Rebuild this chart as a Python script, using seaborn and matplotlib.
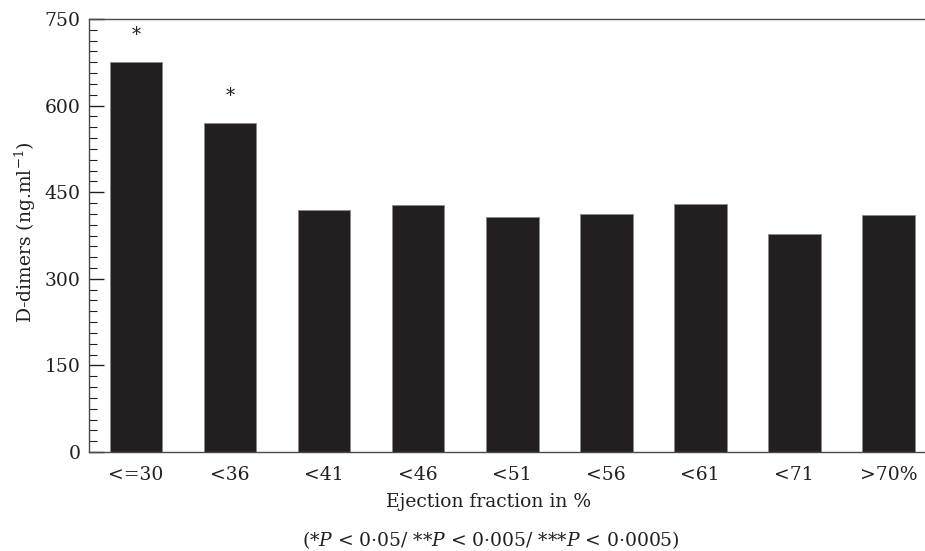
import matplotlib
matplotlib.use("Agg")
import matplotlib.pyplot as plt
import seaborn as sns
import pandas as pd
from matplotlib.ticker import MultipleLocator

categories = ["<=30", "<36", "<41", "<46", "<51", "<56", "<61", "<71", ">70%"]
values = [675, 569, 419, 427, 407, 412, 430, 378, 411]
marks = ["*", "*", "", "", "", "", "", "", ""]
y_ticks = [0, 150, 300, 450, 600, 750]

sns.set_style("ticks")
plt.rcParams["font.family"] = ["DejaVu Serif"]
plt.rcParams["mathtext.fontset"] = "dejavuserif"

df = pd.DataFrame({"cat": categories, "val": values})

fig = plt.figure(figsize=(9.25, 5.51), dpi=100)
ax = fig.add_axes([89 / 925, 1 - 452 / 551, 1 - 89 / 925, (452 - 19) / 551])

sns.barplot(data=df, x="cat", y="val", order=categories, color="#231f20",
            saturation=1, width=0.56, edgecolor="#8a8a8a", linewidth=0.6, ax=ax)

for i, (v, m) in enumerate(zip(values, marks)):
    if m:
        ax.text(i, v + 47, m, ha="center", va="center", fontsize=13, color="#231f20")

ax.set_xlim(-0.5, 8.39)
ax.set_ylim(0, 750)
ax.set_yticks(y_ticks)
ax.yaxis.set_minor_locator(MultipleLocator(18.75))

spine_col = "#4a4a4a"
for side in ["left", "bottom", "top"]:
    ax.spines[side].set_visible(True)
    ax.spines[side].set_color(spine_col)
    ax.spines[side].set_linewidth(1.0)
ax.spines["right"].set_visible(False)

fs = 13.5
ax.tick_params(axis="y", which="major", direction="in", length=11, width=1.0,
               color="#231f20", labelsize=fs, pad=6, labelcolor="#231f20")
ax.tick_params(axis="y", which="minor", direction="in", length=5.5, width=0.8,
               color="#231f20")
ax.tick_params(axis="x", which="both", length=0, labelsize=fs, pad=10,
               labelcolor="#231f20")

ax.set_xlabel("Ejection fraction in %", fontsize=fs, color="#231f20")
ax.xaxis.label.set_va("center")
ax.xaxis.set_label_coords((489 - 89) / 836, (452 - 502) / 433)

ax.set_ylabel("D-dimers (ng.ml$^{-1}$)", fontsize=fs, color="#231f20")
ax.yaxis.label.set_va("center")
ax.yaxis.set_label_coords((25 - 89) / 836, (452 - 232) / 433)

fig.text(491 / 925, 1 - 540 / 551,
         "(*$P$ < 0·05/ **$P$ < 0·005/ ***$P$ < 0·0005)",
         ha="center", va="center", fontsize=fs, color="#231f20")

fig.savefig("out.png", dpi=100)
